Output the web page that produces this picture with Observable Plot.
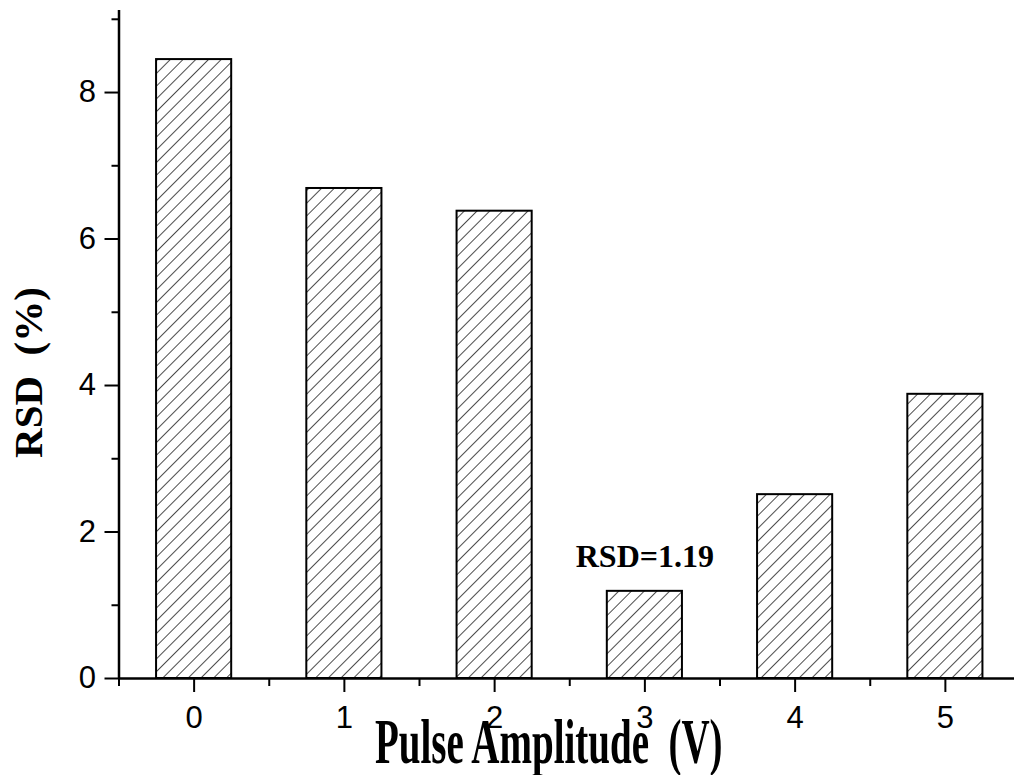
<!DOCTYPE html>
<html>
<head>
<meta charset="utf-8">
<script src="https://cdn.jsdelivr.net/npm/d3@7"></script>
<script src="https://cdn.jsdelivr.net/npm/@observablehq/plot@0.6"></script>
<style>
  html, body { margin: 0; padding: 0; background: #fff; overflow: hidden; }
  #chart { width: 1014px; height: 775px; overflow: hidden; }
</style>
</head>
<body>
<div id="chart"></div>
<script>
// ---- data ----
const pulseAmplitude = [0, 1, 2, 3, 4, 5];
const rsdValues = [8.45, 6.69, 6.38, 1.19, 2.51, 3.88];
const yMajorTicks = [0, 2, 4, 6, 8];
const yMinorTicks = [1, 3, 5, 7, 9];
const xMajorTicks = [0, 1, 2, 3, 4, 5];
const xMinorTicks = [-0.5, 0.5, 1.5, 2.5, 3.5, 4.5];
const annotationText = ["RSD=1.19"];
const annotationIndex = 3;
const xTitle = "Pulse Amplitude  (V)";
const yTitle = "RSD  (%)";

const data = pulseAmplitude.map((v, i) => ({v, rsd: rsdValues[i]}));
const halfBar = 0.25;
const xDomain = [-0.5, 5.5];
const yDomain = [0, 9.12];

const tickFont = "'Liberation Sans', Arial, sans-serif";
const serif = "'Liberation Serif', 'Times New Roman', serif";
const noLabel = () => "";

const chart = Plot.plot({
  width: 1014,
  height: 775,
  marginLeft: 118.5,
  marginRight: -6,
  marginTop: 10,
  marginBottom: 97,
  style: {background: "white", color: "black", overflow: "hidden"},
  x: {domain: xDomain},
  y: {domain: yDomain},
  marks: [
    Plot.rect(data, {
      x1: d => d.v - halfBar,
      x2: d => d.v + halfBar,
      y1: 0,
      y2: "rsd",
      fill: "url(#hatch)",
      stroke: "black",
      strokeWidth: 2
    }),
    // axis lines
    Plot.ruleY([yDomain[0]], {x1: xDomain[0], x2: xDomain[1], stroke: "black", strokeWidth: 2.5}),
    Plot.ruleX([xDomain[0]], {y1: yDomain[0], y2: yDomain[1], stroke: "black", strokeWidth: 2.5}),
    // y axis
    Plot.axisY({ticks: yMajorTicks, tickSize: 14, tickPadding: 9, strokeWidth: 2,
      fontSize: 31, fontFamily: tickFont, label: null, tickFormat: d3.format("d")}),
    Plot.axisY({ticks: yMinorTicks, tickSize: 7, strokeWidth: 2, tickFormat: noLabel, label: null}),
    // x axis
    Plot.axisX({ticks: xMajorTicks, tickSize: 14, tickPadding: 13, strokeWidth: 2,
      fontSize: 31, fontFamily: tickFont, label: null, tickFormat: d3.format("d")}),
    Plot.axisX({ticks: xMinorTicks, tickSize: 8, strokeWidth: 2, tickFormat: noLabel, label: null}),
    // annotation
    Plot.text(annotationText, {
      x: () => pulseAmplitude[annotationIndex],
      y: () => rsdValues[annotationIndex],
      dy: -35,
      fontSize: 32, fontWeight: "bold", fontFamily: serif, fill: "black"
    }),
    // titles
    Plot.text([xTitle], {
      frameAnchor: "bottom", dx: -21, dy: 84, lineAnchor: "bottom", textAnchor: "middle",
      fontSize: 39, fontWeight: "bold", fontFamily: serif, fill: "black",
      className: "x-title"
    }),
    Plot.text([yTitle], {
      frameAnchor: "left", dx: -90, dy: 28, rotate: -90, textAnchor: "middle",
      fontSize: 41, fontWeight: "bold", fontFamily: serif, fill: "black"
    })
  ]
});

// hatch pattern
const svg = d3.select(chart);
const defs = svg.insert("defs", ":first-child");
defs.append("pattern")
  .attr("id", "hatch")
  .attr("patternUnits", "userSpaceOnUse")
  .attr("width", 9)
  .attr("height", 9)
  .attr("patternTransform", "rotate(45)")
  .call(p => p.append("rect").attr("width", 9).attr("height", 9).attr("fill", "white"))
  .call(p => p.append("line")
    .attr("x1", 0).attr("y1", 0).attr("x2", 0).attr("y2", 9)
    .attr("stroke", "black").attr("stroke-width", 1.4));

// vertically stretched x-axis title (as in the original figure)
svg.selectAll("g.x-title text").each(function() {
  const t = d3.select(this);
  const tr = t.attr("transform") || "";
  t.attr("transform", tr + " scale(1,1.65)");
});

document.getElementById("chart").appendChild(chart);
</script>
</body>
</html>
